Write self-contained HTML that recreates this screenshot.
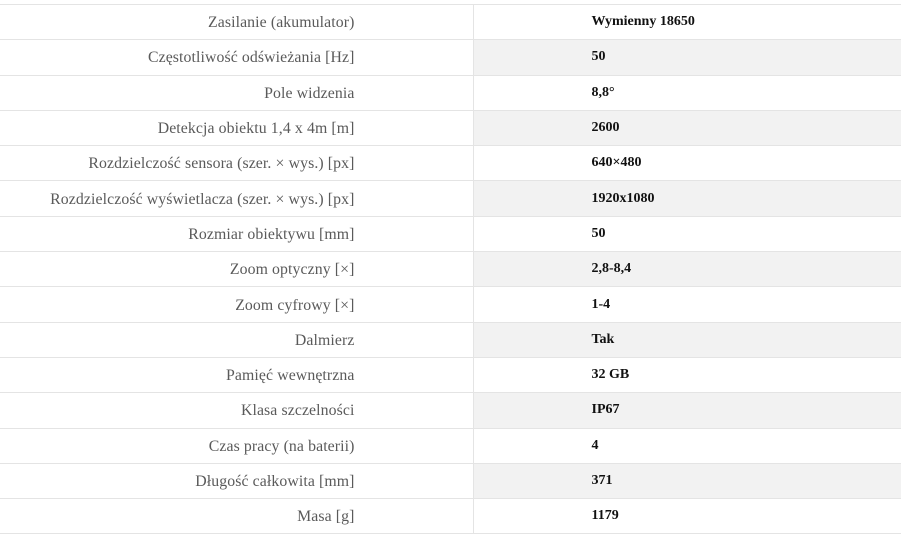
<!DOCTYPE html>
<html><head><meta charset="utf-8"><style>
body{margin:0;background:#fff;width:901px;height:546px;overflow:hidden}
table{position:absolute;left:0;top:4px;width:901px;border-collapse:collapse;table-layout:fixed}
td{height:34.3px;padding:0;border-top:1px solid #e4e4e4;border-bottom:1px solid #e4e4e4;vertical-align:middle;line-height:18px}
td.l{width:473px;border-right:1px solid #e4e4e4;text-align:right;padding-right:118px;box-sizing:border-box;font-family:"Liberation Serif",serif;font-size:15.8px;color:#5a5a5a;letter-spacing:0.1px}
td.v{padding-left:118px;font-family:"Liberation Serif",serif;font-weight:bold;font-size:14px;color:#111}
td span{position:relative;top:1px}
tr:nth-child(even) td.v{background:#f2f2f2}
</style></head><body>
<table>
<tr><td class="l"><span>Zasilanie (akumulator)</span></td><td class="v">Wymienny 18650</td></tr>
<tr><td class="l"><span>Częstotliwość odświeżania [Hz]</span></td><td class="v">50</td></tr>
<tr><td class="l"><span>Pole widzenia</span></td><td class="v">8,8°</td></tr>
<tr><td class="l"><span>Detekcja obiektu 1,4 x 4m [m]</span></td><td class="v">2600</td></tr>
<tr><td class="l"><span>Rozdzielczość sensora (szer. × wys.) [px]</span></td><td class="v">640×480</td></tr>
<tr><td class="l"><span>Rozdzielczość wyświetlacza (szer. × wys.) [px]</span></td><td class="v">1920x1080</td></tr>
<tr><td class="l"><span>Rozmiar obiektywu [mm]</span></td><td class="v">50</td></tr>
<tr><td class="l"><span>Zoom optyczny [×]</span></td><td class="v">2,8-8,4</td></tr>
<tr><td class="l"><span>Zoom cyfrowy [×]</span></td><td class="v">1-4</td></tr>
<tr><td class="l"><span>Dalmierz</span></td><td class="v">Tak</td></tr>
<tr><td class="l"><span>Pamięć wewnętrzna</span></td><td class="v">32 GB</td></tr>
<tr><td class="l"><span>Klasa szczelności</span></td><td class="v">IP67</td></tr>
<tr><td class="l"><span>Czas pracy (na baterii)</span></td><td class="v">4</td></tr>
<tr><td class="l"><span>Długość całkowita [mm]</span></td><td class="v">371</td></tr>
<tr><td class="l"><span>Masa [g]</span></td><td class="v">1179</td></tr>
</table>
</body></html>
